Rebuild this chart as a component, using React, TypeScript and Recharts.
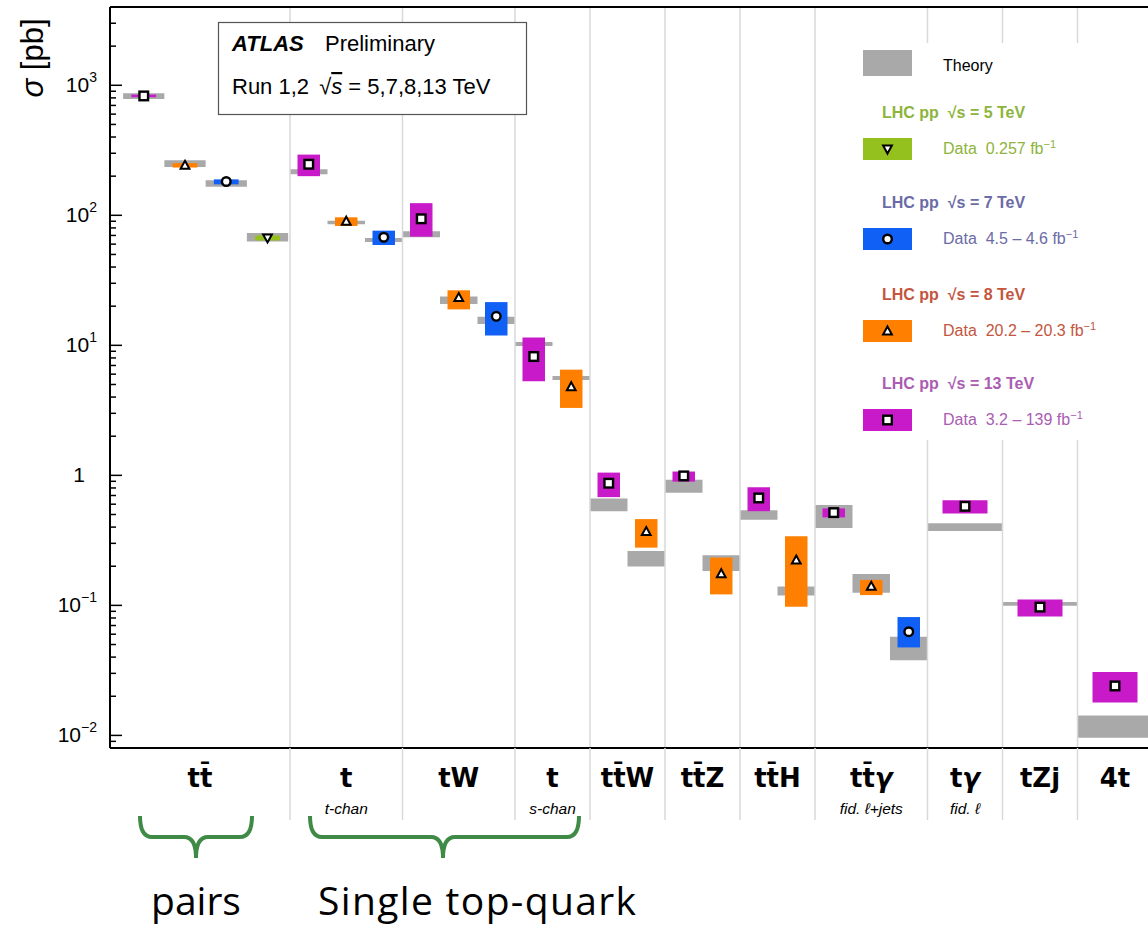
import { ComposedChart, XAxis, YAxis, ReferenceArea, ReferenceLine, Scatter } from 'recharts'

// x-axis categories (process), with their slot ranges
const categories = ['tt\u0304', 't', 'tW', 't', 'tt\u0304W', 'tt\u0304Z', 'tt\u0304H', 'tt\u0304γ', 'tγ', 'tZj', '4t']
const subLabels = ['', 't-chan', '', 's-chan', '', '', '', 'fid. ℓ+jets', 'fid. ℓ', '', '']
const categoryEdges = [0.2, 5, 8, 11, 13, 15, 17, 19, 22, 24, 26, 28]

// x = slot, v = measured σ [pb], lo/hi = data band, tlo/thi = theory band
const run13 = [
  { x: 1.1, v: 828, lo: 810, hi: 848, tlo: 785, thi: 867 },
  { x: 5.5, v: 247, lo: 200, hi: 293, tlo: 207, thi: 226 },
  { x: 8.5, v: 94, lo: 68.5, hi: 124, tlo: 67.8, thi: 75.3 },
  { x: 11.5, v: 8.2, lo: 5.3, hi: 11.5, tlo: 9.9, thi: 10.6 },
  { x: 13.5, v: 0.87, lo: 0.68, hi: 1.05, tlo: 0.53, thi: 0.665 },
  { x: 15.5, v: 0.99, lo: 0.895, hi: 1.07, tlo: 0.736, thi: 0.927 },
  { x: 17.5, v: 0.67, lo: 0.53, hi: 0.81, tlo: 0.456, thi: 0.538 },
  { x: 19.5, v: 0.517, lo: 0.475, hi: 0.557, tlo: 0.394, thi: 0.592 },
  { x: 23, v: 0.578, lo: 0.51, hi: 0.643, tlo: 0.373, thi: 0.428 },
  { x: 25, v: 0.097, lo: 0.082, hi: 0.111, tlo: 0.0995, thi: 0.106 },
  { x: 27, v: 0.024, lo: 0.0179, hi: 0.0307, tlo: 0.0096, thi: 0.01425 },
]

const run8 = [
  { x: 2.2, v: 242, lo: 233, hi: 252, tlo: 235, thi: 265 },
  { x: 6.5, v: 90, lo: 82.8, hi: 96.5, tlo: 85.3, thi: 91 },
  { x: 9.5, v: 23.3, lo: 18.9, hi: 26.5, tlo: 20.8, thi: 23.7 },
  { x: 12.5, v: 4.8, lo: 3.3, hi: 6.5, tlo: 5.4, thi: 5.8 },
  { x: 14.5, v: 0.369, lo: 0.278, hi: 0.461, tlo: 0.1995, thi: 0.262 },
  { x: 16.5, v: 0.175, lo: 0.1215, hi: 0.233, tlo: 0.184, thi: 0.243 },
  { x: 18.5, v: 0.223, lo: 0.0977, hi: 0.34, tlo: 0.119, thi: 0.14 },
  { x: 20.5, v: 0.14, lo: 0.12, hi: 0.157, tlo: 0.125, thi: 0.174 },
]

const run7 = [
  { x: 3.3, v: 182, lo: 173, hi: 189, tlo: 166, thi: 186 },
  { x: 7.5, v: 67.8, lo: 59.1, hi: 76.2, tlo: 62.3, thi: 66.9 },
  { x: 10.5, v: 16.7, lo: 11.9, hi: 21.5, tlo: 14.6, thi: 16.6 },
  { x: 21.5, v: 0.0627, lo: 0.0475, hi: 0.0813, tlo: 0.0378, thi: 0.0574 },
]

const run5 = [
  { x: 4.4, v: 67, lo: 64, hi: 70, tlo: 63, thi: 73 },
]

const yMajor = [0.01, 0.1, 1, 10, 100, 1000]
const yMajorLabels = ['10|−2', '10|−1', '1', '10|1', '10|2', '10|3']

const THEORY = '#a9a9a9'
const SEP = '#d9d9d9'
const NB = '\u00a0'

// box half widths per category (theory, data)
function halfWidths(cat: number) {
  if (cat === 0) return [0.55, 0.33]
  if (cat >= 8) return [1.0, 0.6]
  return [0.5, 0.3]
}
const catOf = (x: number) => categoryEdges.findIndex(e => x < e) - 1

const squareShape = (p: any) => (
  <rect x={p.cx - 4.3} y={p.cy - 4.3} width={8.6} height={8.6} fill="#fff" stroke="#000" strokeWidth={2.4} />
)
const circleShape = (p: any) => (
  <circle cx={p.cx} cy={p.cy} r={4.3} fill="#fff" stroke="#000" strokeWidth={2.4} />
)
const triUpShape = (p: any) => (
  <path d={`M${p.cx},${p.cy - 4.6} L${p.cx + 4.4},${p.cy + 3.4} L${p.cx - 4.4},${p.cy + 3.4} Z`} fill="#fff" stroke="#000" strokeWidth={2} />
)
const triDownShape = (p: any) => (
  <path d={`M${p.cx},${p.cy + 4.6} L${p.cx + 4.4},${p.cy - 3.4} L${p.cx - 4.4},${p.cy - 3.4} Z`} fill="#fff" stroke="#000" strokeWidth={2} />
)

const runs = [
  { key: 'r13', rows: run13, color: '#c81ac8', shape: squareShape },
  { key: 'r8', rows: run8, color: '#ff8000', shape: triUpShape },
  { key: 'r7', rows: run7, color: '#1060f5', shape: circleShape },
  { key: 'r5', rows: run5, color: '#95c11f', shape: triDownShape },
]

// minor log ticks
const yTicks: number[] = []
;[0.001, 0.01, 0.1, 1, 10, 100, 1000].forEach(m => {
  for (let k = 1; k <= 9; k++) {
    const t = Number((k * m).toPrecision(3))
    if (t >= 0.008 && t < 4000) yTicks.push(t)
  }
})

const separators = categoryEdges.slice(1, -1)
const centers = categories.map((_, i) => (categoryEdges[i] + categoryEdges[i + 1]) / 2)

function YTick({ x, y, payload }: any) {
  const idx = yMajor.indexOf(payload.value)
  const major = idx >= 0
  let label = null
  if (major) {
    const [base, exp] = yMajorLabels[idx].split('|')
    label = exp ? (
      <text x={x - 13} y={y + 7} textAnchor="end" fontFamily="Liberation Sans, sans-serif" fontSize={21} fill="#000">
        <tspan>{base}</tspan>
        <tspan dy={-10} fontSize={14}>{exp}</tspan>
      </text>
    ) : (
      <text x={x - 25} y={y + 7} textAnchor="end" fontFamily="Liberation Sans, sans-serif" fontSize={21} fill="#000">
        {base}
      </text>
    )
  }
  return (
    <g>
      <line x1={x} x2={x + (major ? 12 : 6)} y1={y} y2={y} stroke="#000" strokeWidth={1.5} />
      {label}
    </g>
  )
}

function XTick({ x, y, payload }: any) {
  const v = payload.value
  if (separators.includes(v)) {
    return <line x1={x} x2={x} y1={y} y2={y + 72} stroke={SEP} strokeWidth={1.5} />
  }
  const i = centers.indexOf(v)
  if (i < 0) return null
  const name = categories[i]
  const italicGamma = name.endsWith('γ')
  return (
    <g>
      <text x={x} y={y + 39} textAnchor="middle" fontFamily="DejaVu Sans, sans-serif" fontWeight="bold" fontSize={26} fill="#000">
        {italicGamma ? (
          <>
            <tspan>{name.slice(0, -1)}</tspan>
            <tspan fontStyle="italic">γ</tspan>
          </>
        ) : name}
      </text>
      {subLabels[i] && (
        <text x={x} y={y + 66} textAnchor="middle" fontFamily="Liberation Sans, sans-serif" fontStyle="italic" fontSize={15.5} fill="#000">
          {subLabels[i]}
        </text>
      )}
    </g>
  )
}

function LegendMarker({ cx, cy, shape }: any) {
  return shape({ cx, cy })
}

function Overlay() {
  const legendRows = [
    { title: `LHC pp${NB}${NB}√s = 5 TeV`, data: `Data${NB}${NB}0.257 fb`, titleColor: '#8db43c', color: '#95c11f', shape: triDownShape, y: 113 },
    { title: `LHC pp${NB}${NB}√s = 7 TeV`, data: `Data${NB}${NB}4.5 – 4.6 fb`, titleColor: '#6b6ba6', color: '#1060f5', shape: circleShape, y: 203 },
    { title: `LHC pp${NB}${NB}√s = 8 TeV`, data: `Data${NB}${NB}20.2 – 20.3 fb`, titleColor: '#c4553e', color: '#ff8000', shape: triUpShape, y: 295 },
    { title: `LHC pp${NB}${NB}√s = 13 TeV`, data: `Data${NB}${NB}3.2 – 139 fb`, titleColor: '#aa5db2', color: '#c81ac8', shape: squareShape, y: 384 },
  ]
  const green = '#3f8a46'
  return (
    <svg width={1148} height={928} style={{ position: 'absolute', left: 0, top: 0, pointerEvents: 'none' }}>
      {/* y title */}
      <text transform="translate(43,58) rotate(-90)" textAnchor="middle" fontFamily="Liberation Sans, sans-serif" fontSize={31} fill="#000">
        <tspan fontStyle="italic">σ</tspan> [pb]
      </text>

      {/* ATLAS box */}
      <rect x={218.5} y={22.5} width={308} height={92} fill="#fff" stroke="#555" strokeWidth={1.2} />
      <text x={232} y={51} fontFamily="Liberation Sans, sans-serif" fontSize={22} fill="#000">
        <tspan fontWeight="bold" fontStyle="italic">ATLAS</tspan>
        <tspan x={325}>Preliminary</tspan>
      </text>
      <text x={232} y={94} fontFamily="Liberation Sans, sans-serif" fontSize={22} fill="#000">
        Run 1,2 <tspan dx={4}>√</tspan><tspan fontStyle="italic" textDecoration="overline">s</tspan> = 5,7,8,13 TeV
      </text>

      {/* legend */}
      <rect x={850} y={43} width={298} height={397} fill="#fff" />
      <rect x={863} y={50} width={49} height={26} fill={THEORY} />
      <text x={943} y={71} fontFamily="Liberation Sans, sans-serif" fontSize={16} fill="#000">Theory</text>
      {legendRows.map(r => (
        <g key={r.title}>
          <text x={882} y={r.y + 5} fontFamily="Liberation Sans, sans-serif" fontWeight="bold" fontSize={16} fill={r.titleColor}>{r.title}</text>
          <rect x={863} y={r.y + 25} width={49} height={22} fill={r.color} />
          <LegendMarker cx={887.5} cy={r.y + 36} shape={r.shape} />
          <text x={943} y={r.y + 41} fontFamily="Liberation Sans, sans-serif" fontSize={16} fill={r.titleColor}>
            {r.data}<tspan dy={-6} fontSize={11}>−1</tspan>
          </text>
        </g>
      ))}

      {/* group braces */}
      <path d="M140,816 Q140,837 152,837 L184,837 Q196,837 196,858 Q196,837 208,837 L240,837 Q252,837 252,816" fill="none" stroke={green} strokeWidth={4} />
      <path d="M310,816 Q310,837 322,837 L431,837 Q443,837 443,858 Q443,837 455,837 L567,837 Q579,837 579,816" fill="none" stroke={green} strokeWidth={4} />
      <text x={196} y={915} textAnchor="middle" fontFamily="Open Sans, sans-serif" fontSize={39} fill="#000">pairs</text>
      <text x={318} y={915} fontFamily="Open Sans, sans-serif" fontSize={39} textLength={318} fill="#000">Single top-quark</text>
    </svg>
  )
}

export default function App() {
  return (
    <div style={{ position: 'absolute', left: 0, top: 0, width: 1148, height: 928, overflow: 'hidden', background: '#fff' }}>
      <ComposedChart width={1160} height={928} margin={{ top: 7, right: 7.5, bottom: 100, left: 0 }}>
        <XAxis
          type="number"
          dataKey="x"
          domain={[0.2, 28]}
          allowDataOverflow
          ticks={[...separators, ...centers]}
          interval={0}
          tick={<XTick />}
          tickLine={false}
          tickSize={0}
          tickMargin={0}
          height={80}
          axisLine={{ stroke: '#000', strokeWidth: 2 }}
        />
        <YAxis
          type="number"
          scale="log"
          domain={[0.008, 4000]}
          allowDataOverflow
          ticks={yTicks}
          interval={0}
          tick={<YTick />}
          tickLine={false}
          tickSize={0}
          tickMargin={0}
          width={110}
          axisLine={{ stroke: '#000', strokeWidth: 2 }}
        />

        {separators.map(s => (
          <ReferenceLine key={'sep' + s} x={s} stroke={SEP} strokeWidth={1.5} />
        ))}
        <ReferenceLine y={4000} stroke="#000" strokeWidth={2} />

        {runs.flatMap(r => r.rows.map(d => {
          const [tw] = halfWidths(catOf(d.x))
          return (
            <ReferenceArea key={r.key + 't' + d.x} x1={d.x - tw} x2={d.x + tw} y1={d.tlo} y2={d.thi}
              fill={THEORY} fillOpacity={1} stroke="none" ifOverflow="hidden" />
          )
        }))}
        {runs.flatMap(r => r.rows.map(d => {
          const [, dw] = halfWidths(catOf(d.x))
          return (
            <ReferenceArea key={r.key + 'd' + d.x} x1={d.x - dw} x2={d.x + dw} y1={d.lo} y2={d.hi}
              fill={r.color} fillOpacity={1} stroke="none" ifOverflow="hidden" />
          )
        }))}

        {runs.map(r => (
          <Scatter key={r.key} data={r.rows} dataKey="v" shape={r.shape} isAnimationActive={false} />
        ))}
      </ComposedChart>
      <Overlay />
    </div>
  )
}
